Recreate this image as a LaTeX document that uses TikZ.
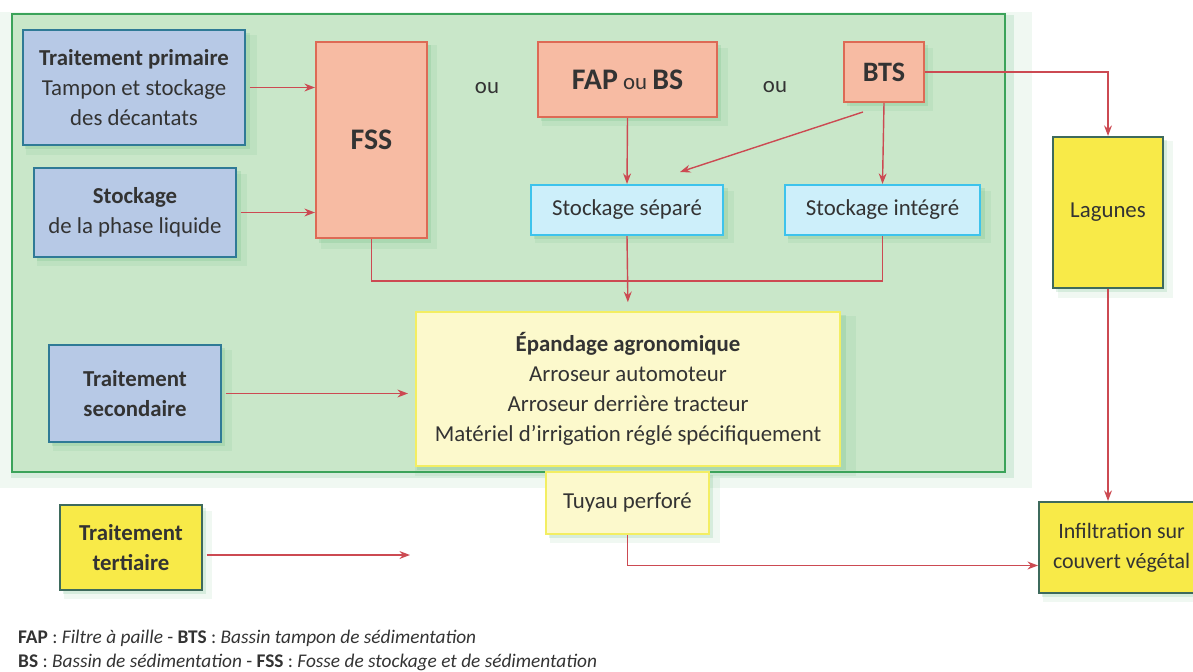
\documentclass[tikz,border=0pt]{standalone}
\usepackage{fontspec}
\setmainfont{Carlito}
\usetikzlibrary{arrows.meta,positioning,calc,shadows}
\definecolor{vertfond}{HTML}{C9E7C9}
\definecolor{vertbord}{HTML}{3BA35A}
\definecolor{bleufond}{HTML}{B7C9E6}
\definecolor{bleubord}{HTML}{2F7A96}
\definecolor{saumon}{HTML}{F7BBA3}
\definecolor{saumonbord}{HTML}{DD6A55}
\definecolor{cielfond}{HTML}{CDEFFA}
\definecolor{cielbord}{HTML}{3DC3EC}
\definecolor{cremefond}{HTML}{FCF9CC}
\definecolor{cremebord}{HTML}{F3EE62}
\definecolor{jaunefond}{HTML}{F8EA48}
\definecolor{jaunebord}{HTML}{3E6A5C}
\definecolor{fleche}{HTML}{CC4A52}
\definecolor{texte}{HTML}{333333}

\tikzset{
  halo/.style={general shadow={fill=vertbord, opacity=.08, shadow xshift=4pt, shadow yshift=-4pt, shadow scale=1.04},
    general shadow={fill=vertbord, opacity=.14, shadow xshift=2pt, shadow yshift=-2pt, shadow scale=1.01}},
  boite/.style={draw, line width=1.2pt, align=center, text=texte, inner sep=2pt, halo,
    font=\fontsize{13}{17}\selectfont},
  traitement/.style={boite, fill=bleufond, draw=bleubord},
  fosse/.style={boite, fill=saumon, draw=saumonbord},
  stock/.style={boite, fill=cielfond, draw=cielbord},
  epand/.style={boite, fill=cremefond, draw=cremebord},
  jaune/.style={boite, fill=jaunefond, draw=jaunebord},
  lien/.style={draw=fleche, line width=0.8pt},
  fl/.style={lien, -{Stealth[length=6pt,width=4.5pt]}}
}

\begin{document}
\begin{tikzpicture}[x=0.02cm, y=-0.02cm]
  \useasboundingbox (0,0) rectangle (1193,672);

  \draw[vertbord, fill=vertfond, line width=1.5pt, halo] (12,14) rectangle (1005,472);

  \node[traitement, minimum width=4.44cm, minimum height=2.3cm] (prim) at (134,87.5)
    {\textbf{Traitement primaire}\\Tampon et stockage\\des décantats};
  \node[traitement, minimum width=4.04cm, minimum height=1.78cm] (liq) at (135,212.5)
    {\textbf{Stockage}\\de la phase liquide};
  \node[fosse, minimum width=2.22cm, minimum height=3.92cm, font=\bfseries\fontsize{17}{20}\selectfont] (fss) at (371.5,140) {FSS};
  \node[text=texte, font=\fontsize{13}{17}\selectfont] (ou1) at (487,88) {ou};
  \node[fosse, minimum width=3.58cm, minimum height=1.5cm] (fap) at (627.5,79.5)
    {\textbf{\fontsize{17}{20}\selectfont FAP} ou \textbf{\fontsize{17}{20}\selectfont BS}};
  \node[text=texte, font=\fontsize{13}{17}\selectfont] (ou2) at (775,87) {ou};
  \node[fosse, minimum width=1.6cm, minimum height=1.2cm, font=\bfseries\fontsize{16}{19}\selectfont] (bts) at (884,72) {BTS};
  \node[stock, minimum width=3.84cm, minimum height=1cm] (sep) at (627,210) {Stockage séparé};
  \node[stock, minimum width=3.9cm, minimum height=1cm] (integ) at (882.5,210) {Stockage intégré};
  \node[jaune, minimum width=2.2cm, minimum height=3.02cm] (lag) at (1108,212.5) {Lagunes};
  \node[epand, minimum width=8.48cm, minimum height=3.08cm] (epa) at (628,389)
    {\textbf{Épandage agronomique}\\Arroseur automoteur\\Arroseur derrière tracteur\\Matériel d'irrigation réglé spécifiquement};
  \node[epand, minimum width=3.26cm, minimum height=1.24cm] (tuy) at (627.5,503) {Tuyau perforé};
  \node[traitement, minimum width=3.44cm, minimum height=1.94cm] (sec) at (135,393.5)
    {\textbf{Traitement}\\\textbf{secondaire}};
  \node[jaune, minimum width=2.84cm, minimum height=1.7cm] (ter) at (131,547.5)
    {\textbf{Traitement}\\\textbf{tertiaire}};
  \node[jaune, minimum width=3.3cm, minimum height=1.82cm, anchor=west, font=\fontsize{12.5}{17}\selectfont] (inf) at (1038,547.5)
    {Infiltration sur\\couvert végétal};

  \node[anchor=west, align=left, text=texte, font=\fontsize{11}{13.6}\selectfont] (leg) at (12,650)
    {\textbf{FAP} : \textit{Filtre à paille} - \textbf{BTS} : \textit{Bassin tampon de sédimentation}\\
     \textbf{BS} : \textit{Bassin de sédimentation} - \textbf{FSS} : \textit{Fosse de stockage et de sédimentation}};

  \coordinate (diagA) at (863,112);
  \coordinate (diagB) at (680,172);
  \coordinate (coll) at (628,281);
  \coordinate (terfin) at (410,555);

  \draw[fl, shorten <=2pt] (prim.east) -- (fss.west |- prim.east);
  \draw[fl, shorten <=2pt] (liq.east) -- (fss.west |- liq.east);
  \draw[fl] (fap.south) -- (sep.north);
  \draw[fl] (bts.south) -- (integ.north);
  \draw[fl] (diagA) -- (diagB);
  \draw[fl] (bts.east) -| (lag.north);
  \draw[lien] (fss.south) |- (integ.south |- coll) -- (integ.south);
  \draw[fl, shorten >=5pt] (sep.south) -- (epa.north);
  \draw[fl, shorten <=2pt, shorten >=4pt] (sec.east) -- (epa.west |- sec.east);
  \draw[fl, shorten <=2pt] (ter.east |- terfin) -- (terfin);
  \draw[fl] (tuy.south) |- ([yshift=-0.36cm]inf.west);
  \draw[fl] (lag.south) -- (lag.south |- inf.north);
\end{tikzpicture}
\end{document}
